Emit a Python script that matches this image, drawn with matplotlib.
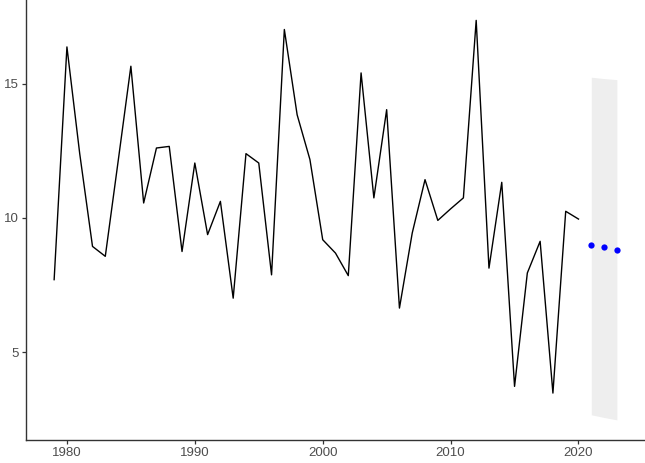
import matplotlib
matplotlib.use("Agg")
import matplotlib.pyplot as plt
import numpy as np

years = list(range(1979, 2021))
values = [7.70, 16.38, 12.40, 8.94, 8.57, 12.10, 15.66, 10.56, 12.61, 12.67,
          8.75, 12.05, 9.38, 10.62, 7.01, 12.40, 12.05, 7.88, 17.03, 13.85,
          12.18, 9.19, 8.69, 7.85, 15.41, 10.75, 14.04, 6.64, 9.44, 11.43,
          9.91, 10.34, 10.75, 17.37, 8.13, 11.33, 3.72, 7.95, 9.13, 3.47,
          10.25, 9.96]

fc_years = [2021, 2022, 2023]
fc_mean = [8.98, 8.90, 8.82]
fc_lower = [2.66, 2.56, 2.47]
fc_upper = [15.25, 15.20, 15.16]

xticks = [1980, 1990, 2000, 2010, 2020]
yticks = [5, 10, 15]

plt.rcParams['font.family'] = ['Liberation Sans', 'DejaVu Sans']

fig = plt.figure(figsize=(6.45, 4.63), dpi=100)
ax = fig.add_axes([26/645, 23/463, 619/645, 440/463])

ax.fill_between(fc_years, fc_lower, fc_upper, color='#EEEEEE', linewidth=0, zorder=1)
ax.plot(years, values, color='black', linewidth=1.0, zorder=2)
ax.plot(fc_years, fc_mean, 'o', color='#0000FF', markersize=4.5, markeredgewidth=0, zorder=3)

ax.set_xlim(1976.8, 2025.2)
ax.set_ylim(1.72, 18.13)
ax.set_xticks(xticks)
ax.set_yticks(yticks)

for s in ['top', 'right']:
    ax.spines[s].set_visible(False)
for s in ['left', 'bottom']:
    ax.spines[s].set_color('#333333')
    ax.spines[s].set_linewidth(1.0)

ax.tick_params(axis='both', length=3, width=0.9, color='#333333',
               labelcolor='#4D4D4D', labelsize=9.5, pad=2)

fig.savefig('out.png', dpi=100)
